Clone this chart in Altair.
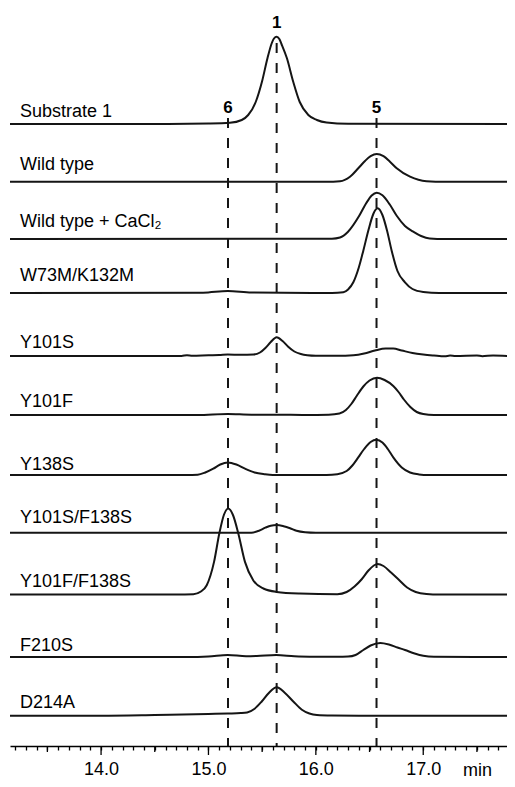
import altair as alt
import pandas as pd

# ---- chromatogram traces: (retention time [min], detector signal [a.u.]) ----
substrate_1 = [(13.15, 0), (14.5, 0), (15.0, 0.5), (15.2, 1.2), (15.31, 4), (15.37, 9), (15.44, 22),
               (15.5, 43), (15.55, 66), (15.59, 81), (15.61, 85.5), (15.635, 87.3), (15.66, 85),
               (15.68, 80), (15.73, 66), (15.79, 42), (15.85, 22), (15.93, 9), (16.01, 4), (16.1, 1.5),
               (16.3, 0.3), (17.8, 0)]
wild_type = [(13.15, 0), (16.1, 0), (16.225, 0.5), (16.318, 5), (16.395, 13.4), (16.46, 21), (16.51, 25.5),
             (16.567, 27.7), (16.63, 25.5), (16.69, 20), (16.753, 13.4), (16.877, 5), (17.03, 0.5),
             (17.2, 0), (17.8, 0)]
wild_type_cacl2 = [(13.15, 0), (16.15, 0.3), (16.225, 1.5), (16.30, 7.3), (16.404, 23.2), (16.47, 36),
                   (16.52, 43.5), (16.567, 46.3), (16.62, 43.7), (16.69, 34.2), (16.753, 23.2), (16.83, 13),
                   (16.908, 7.3), (16.98, 3), (17.06, 0.5), (17.2, 0), (17.8, 0)]
w73m_k132m = [(13.15, 0), (14.95, 0.3), (15.18, 2), (15.4, 0.5), (16.15, 0), (16.256, 0.8), (16.30, 3.5),
              (16.349, 10.7), (16.40, 25.5), (16.442, 42.3), (16.49, 63), (16.535, 79), (16.576, 84.7),
              (16.62, 78), (16.665, 61.5), (16.706, 42.3), (16.76, 22), (16.83, 10.7), (16.9, 4),
              (17.0, 1), (17.15, 0), (17.8, 0)]
y101s = [(13.15, 0), (14.75, 0), (14.8, 0.8), (14.85, 0.3), (15.0, 0.8), (15.1, 1), (15.18, 1.5),
         (15.3, 1.2), (15.42, 1.5), (15.48, 3.5), (15.53, 8), (15.58, 14), (15.635, 18.7), (15.69, 15),
         (15.74, 9.5), (15.80, 4.5), (15.86, 2), (15.92, 0.8), (16.0, 0.3), (16.2, 0.3), (16.35, 0.8),
         (16.45, 2.5), (16.55, 5.5), (16.65, 7.5), (16.72, 7.5), (16.8, 5.5), (16.9, 3), (17.0, 1.5),
         (17.1, 0.5), (17.2, -0.3), (17.25, 0.5), (17.3, 0), (17.5, 0.6), (17.55, -0.2), (17.65, 0.5),
         (17.8, 0)]
y101f = [(13.15, 0), (14.9, 0), (15.18, 1), (15.4, 0.3), (15.63, 0.3), (15.9, 0), (16.12, 0.3),
         (16.22, 1.5), (16.28, 5), (16.33, 11), (16.38, 19), (16.442, 28.5), (16.50, 34.5), (16.57, 37.3),
         (16.64, 35), (16.721, 29), (16.77, 23), (16.82, 15.5), (16.88, 8), (16.94, 3), (17.0, 1),
         (17.1, 0), (17.8, 0)]
y138s = [(13.15, 0), (14.8, 0), (14.9, 0.3), (14.97, 2.5), (15.045, 6.3), (15.11, 10.5), (15.18, 12.6),
         (15.26, 10.5), (15.34, 6.3), (15.43, 2.5), (15.52, 0.8), (15.6, 0), (16.1, 0), (16.2, 0.8),
         (16.287, 4), (16.34, 9.5), (16.395, 17.6), (16.45, 26), (16.51, 33), (16.565, 35.3),
         (16.62, 32.5), (16.67, 26), (16.721, 17.6), (16.8, 7.5), (16.877, 2.5), (16.96, 0.6),
         (17.05, 0), (17.8, 0)]
y101s_f138s = [(13.15, 0), (15.40, 0), (15.47, 2), (15.53, 5), (15.58, 7), (15.636, 7.7), (15.70, 6.5),
               (15.76, 4.5), (15.82, 2), (15.9, 0.5), (16.0, 0), (17.8, 0)]
y101f_f138s = [(13.15, 0), (14.7, 0), (14.86, 0.3), (14.93, 3), (14.984, 9.3), (15.052, 32.6),
               (15.101, 61), (15.145, 80), (15.185, 86), (15.23, 79), (15.278, 61), (15.34, 32.6),
               (15.418, 14), (15.511, 6), (15.636, 2.6), (15.85, 1), (16.2, 0.3), (16.287, 2.5),
               (16.36, 8), (16.427, 15.25), (16.49, 24), (16.54, 29), (16.575, 30.5), (16.63, 28.5),
               (16.70, 22), (16.768, 15.25), (16.85, 7), (16.93, 2.5), (17.03, 0.5), (17.15, 0), (17.8, 0)]
f210s = [(13.15, 0), (14.8, 0), (15.0, 0.5), (15.18, 2), (15.35, 0.8), (15.45, 1), (15.63, 2), (15.8, 0.8),
         (16.0, 0.3), (16.2, 0.2), (16.3, 0.4), (16.37, 2), (16.442, 7), (16.51, 11.5), (16.6, 14),
         (16.68, 12.5), (16.76, 9.5), (16.83, 7), (16.92, 3.5), (17.0, 1.2), (17.1, 0.2), (17.8, 0)]
d214a = [(13.15, 0), (14.0, 0), (14.5, 0.7), (15.0, 1.7), (15.18, 2.2), (15.3, 2.6), (15.36, 3.2),
         (15.43, 7), (15.496, 14.2), (15.56, 22.5), (15.636, 28.4), (15.71, 23), (15.79, 14.2),
         (15.87, 6), (15.94, 2.2), (16.01, 0.7), (16.15, 0.2), (16.4, 0), (17.8, 0)]

trace_names = ["Substrate 1", "Wild type", "Wild type + CaCl\u2082", "W73M/K132M", "Y101S", "Y101F",
               "Y138S", "Y101S/F138S", "Y101F/F138S", "F210S", "D214A"]
trace_data = [substrate_1, wild_type, wild_type_cacl2, w73m_k132m, y101s, y101f, y138s,
              y101s_f138s, y101f_f138s, f210s, d214a]

# ---- layout: vertical offset of each trace and of its label (same units as signal) ----
trace_offset = [622, 564.3, 507, 453, 390, 331, 271, 213.3, 151.5, 89, 30.3]
label_level = [629, 576, 519, 465, 398, 339, 276, 223, 159, 95, 38]

# ---- marked peaks ----
peak_names = ["6", "1", "5"]
peak_times = [15.182, 15.635, 16.565]
peak_label_level = [633, 718, 633]
peak_line_top = [628, 703, 628]
peak_line_bottom = [0, 0, 0]

# ---- axis ticks ----
minor_ticks = [round(13.2 + 0.1 * i, 1) for i in range(46)]
major_ticks = [14.0, 15.0, 16.0, 17.0]
half_ticks = [13.5, 14.5, 15.5, 16.5, 17.5]
major_len = [-9, -9, -9, -9]
half_len = [-6, -6, -6, -6, -6]

rows = []
for name, off, pts in zip(trace_names, trace_offset, trace_data):
    for t, s in pts:
        rows.append({"trace": name, "t": t, "signal": s, "offset": off})
traces_df = pd.DataFrame(rows)
labels_df = pd.DataFrame({"trace": trace_names, "level": label_level})
peaks_df = pd.DataFrame({"peak": peak_names, "t": peak_times, "level": peak_label_level,
                         "top": peak_line_top, "bottom": peak_line_bottom})
longticks_df = pd.DataFrame({"t": major_ticks + half_ticks, "len": major_len + half_len,
                             "zero": [0] * (len(major_ticks) + len(half_ticks))})

FONT = "Liberation Sans"
xscale = alt.Scale(domain=[13.152, 17.78], nice=False, zero=False)
yscale = alt.Scale(domain=[0, 736], nice=False, zero=False)

is_int = "abs(datum.value - round(datum.value)) < 0.001"

xaxis = alt.Axis(
    values=minor_ticks,
    tickSize=4,
    labelExpr=f"{is_int} ? format(datum.value, '.1f') : ''",
    labelFont=FONT, labelFontSize=18, labelColor="black", labelPadding=10,
    labelFlush=False, labelOverlap=False,
    domainColor="black", domainWidth=1.5, tickColor="black", tickWidth=1.3, grid=False,
    title="min", titleFont=FONT, titleFontSize=18, titleFontWeight="normal", titleColor="black",
    titleAngle=0, titleAlign="center", titleBaseline="alphabetic", titleX=467, titleY=29,
)

X = lambda field: alt.X(field, scale=xscale, axis=xaxis)
Y = lambda field: alt.Y(field, scale=yscale, axis=None)

lines = alt.Chart(traces_df).transform_calculate(
    y="datum.offset + datum.signal"
).mark_line(interpolate="monotone", strokeWidth=2, color="#151515", clip=True).encode(
    x=X("t:Q"),
    y=Y("y:Q"),
    detail="trace:N",
)

dashes = alt.Chart(peaks_df).mark_rule(strokeDash=[10, 10], strokeWidth=2, color="#151515").encode(
    x=X("t:Q"),
    y=Y("top:Q"),
    y2="bottom:Q",
)

long_ticks = alt.Chart(longticks_df).mark_rule(strokeWidth=1.3, color="black").encode(
    x=X("t:Q"),
    y=Y("zero:Q"),
    y2="len:Q",
)

peak_text = alt.Chart(peaks_df).mark_text(
    font=FONT, fontSize=17, fontWeight="bold", align="center", baseline="alphabetic", color="black"
).encode(
    x=X("t:Q"),
    y=Y("level:Q"),
    text="peak:N",
)

trace_text = alt.Chart(labels_df).mark_text(
    font=FONT, fontSize=18, align="left", baseline="alphabetic", color="black"
).encode(
    x=alt.value(10),
    y=Y("level:Q"),
    text="trace:N",
)

chart = alt.layer(dashes, lines, long_ticks, peak_text, trace_text).properties(
    width=497, height=736,
    autosize=alt.AutoSizeParams(type="none"),
    padding={"left": 2, "top": 2, "right": 0, "bottom": 33},
    background="white",
).configure_view(stroke=None)

chart.save("out.html", embed_options={"renderer": "svg", "actions": False})
